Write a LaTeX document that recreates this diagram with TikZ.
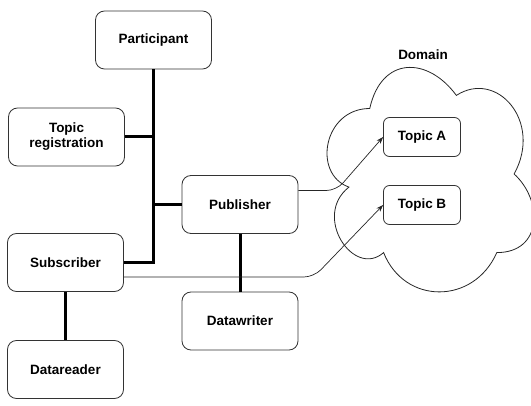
\documentclass[tikz,border=0pt]{standalone}
\usepackage{fontspec}
\setmainfont{Liberation Sans}
\usetikzlibrary{positioning,arrows.meta}

\tikzset{
  entity/.style={draw=black!80, line width=0.8pt, rounded corners=9pt, fill=white,
    minimum width=116pt, minimum height=58pt, align=center,
    font=\fontsize{13.5}{15}\selectfont\bfseries},
  topicbox/.style={entity, minimum width=77pt, minimum height=39pt, rounded corners=6pt},
  bus/.style={line width=3pt, black},
  flow/.style={line width=0.7pt, black!85, rounded corners=10pt, -{Stealth[length=7pt,width=5pt]}},
}

\begin{document}
\begin{tikzpicture}[x=1pt,y=-1pt]
  \useasboundingbox (0,0) rectangle (531,406);
  % the domain cloud
  \begin{scope}[shift={(312,43)}, x=231pt, y=-262pt]
    \draw[black!85, line width=0.8pt] (0.25,0.25)
      .. controls (0.05,0.25) and (0,0.5) .. (0.16,0.55)
      .. controls (0,0.66) and (0.18,0.9) .. (0.31,0.8)
      .. controls (0.4,1) and (0.7,1) .. (0.8,0.8)
      .. controls (1,0.8) and (1,0.6) .. (0.875,0.5)
      .. controls (1,0.3) and (0.8,0.1) .. (0.625,0.2)
      .. controls (0.5,0.05) and (0.3,0.05) .. (0.25,0.25) -- cycle;
    \coordinate (domain) at (0.5,0.5);
  \end{scope}
  \node[font=\fontsize{13.5}{15}\selectfont\bfseries] (domainlbl) at (423,55) {Domain};
  % the entities
  \node[entity] (part) at (153.5,40) {Participant};
  \node[entity] (topicreg) at (66.5,137) {Topic\\registration};
  \node[entity] (pub) at (240,204.5) {Publisher};
  \node[entity] (sub) at (65.5,262.5) {Subscriber};
  \node[entity] (dwriter) at (240,321) {Datawriter};
  \node[entity] (dreader) at (65.5,369.5) {Datareader};
  \node[topicbox] (topica) at (422,137) {Topic A};
  \node[topicbox] (topicb) at (422,205) {Topic B};
  % the thick links
  \draw[bus] (part.south) |- (sub.east);
  \draw[bus] (topicreg.east) -- (topicreg.east -| part.south);
  \draw[bus] (pub.west) -- (pub.west -| part.south);
  \draw[bus] (pub.south) -- (dwriter.north);
  \draw[bus] (sub.south) -- (dreader.north);
  % the topic arrows
  \draw[flow] ([yshift=14pt]pub.east) -- ++(38,0) -- (topica.west);
  \draw[flow] ([yshift=-14.5pt]sub.east) -- ++(190,0) -- (topicb.west);
\end{tikzpicture}
\end{document}
